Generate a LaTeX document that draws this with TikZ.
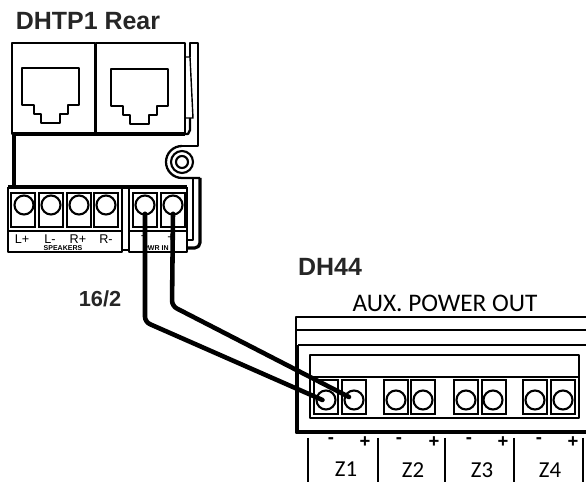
\documentclass[tikz,border=0pt]{standalone}
\usepackage{fontspec}
\setmainfont{Liberation Sans}
\newfontfamily\panelfont{Carlito}
\usetikzlibrary{positioning}
\tikzset{outline/.style={line width=1.3pt, line join=round}}
\tikzset{heavyline/.style={line width=1.8pt, line join=round}}
\tikzset{thinline/.style={line width=0.8pt}}
\tikzset{wire/.style={line width=2.6pt, rounded corners=3pt, line cap=round}}
\tikzset{screw/.style={circle, draw, line width=1.2pt, minimum size=0.38cm, inner sep=0pt, outer sep=0pt}}
\tikzset{cell/.style={rectangle, draw, line width=1.2pt, minimum width=0.48cm, minimum height=0.68cm, inner sep=0pt, outer sep=0pt}}
\tikzset{title/.style={font=\bfseries\fontsize{14.2}{15}\selectfont, text=black!85, inner sep=0pt}}
\tikzset{termlabel/.style={font=\fontsize{7.2}{8}\selectfont, inner sep=0pt}}
\tikzset{tinylabel/.style={font=\bfseries\fontsize{4}{5}\selectfont, inner sep=0pt}}
\tikzset{zonelabel/.style={font=\panelfont\fontsize{13}{14}\selectfont, inner sep=0pt}}
\tikzset{signlabel/.style={font=\bfseries\fontsize{10.5}{11}\selectfont, inner sep=0pt}}

\begin{document}
\begin{tikzpicture}[x=0.02cm,y=-0.02cm]
 \useasboundingbox (0,0) rectangle (586,482);

 %Drawing Wall Plate Jacks
 \node[title] (rearlabel) at (88,21) {DHTP1 Rear};
 \draw[outline] (12,43) rectangle (95,134);
 \draw[outline] (96,43) rectangle (185,134);
 \draw[heavyline] (12,134) -- (185,134);
 \draw[outline] (22,68) -- (79,68) -- (79,105) -- (68,105) -- (68,114) -- (60,114) -- (60,123) -- (41,123) -- (41,114) -- (34,114) -- (34,105) -- (22,105) -- cycle;
 \draw[outline] (111,69) -- (168,69) -- (168,106) -- (157,106) -- (157,115) -- (149,115) -- (149,124) -- (130,124) -- (130,115) -- (123,115) -- (123,106) -- (111,106) -- cycle;

 %Side Clip
 \draw[outline] (190,57) -- (190,43) -- (198,43) -- (198,146) -- (180,146);
 \draw[thinline] (185,57) -- (190,57) -- (193,118) -- (185,118);
 \draw[outline] (185,134) -- (188,134) -- (190,130) -- (190,118);
 \draw[heavyline] (14,134) -- (14,187);

 %Washer
 \draw[outline] (182,146) arc[start angle=270, end angle=90, radius=16] -- (200,178);
 \node[circle, draw, line width=1.2pt, minimum size=0.44cm, inner sep=0pt] (washermid) at (182,162) {};
 \node[circle, draw, line width=1.2pt, minimum size=0.24cm, inner sep=0pt] (washerinner) at (182,162) {};

 %Speaker Block
 \draw[heavyline] (8,187) -- (187,187);
 \draw[outline] (8,187) -- (8,252) -- (122,252) -- (122,187);
 \draw[outline] (129,187) -- (129,252) -- (187,252) -- (187,187);
 \draw[outline] (122,250) -- (129,250);
 \draw[heavyline, rounded corners=3pt] (200,178) -- (200,248) -- (187,248);
 \draw[outline] (187,240) -- (193,240) -- (193,178);
 \draw[thinline] (8,231) -- (122,231);
 \draw[thinline] (129,231) -- (187,231);

 \node[cell] (celll1) at (23,210) {};
 \node[cell] (celll2) at (51,210) {};
 \node[cell] (cellr1) at (79,210) {};
 \node[cell] (cellr2) at (106,210) {};
 \node[cell] (cellpm) at (145,210) {};
 \node[cell] (cellpp) at (173,210) {};
 \node[screw] (screwl1) at (24,205) {};
 \node[screw] (screwl2) at (51,205) {};
 \node[screw] (screwr1) at (79,205) {};
 \node[screw] (screwr2) at (106,205) {};
 \node[screw] (screwpm) at (145,205) {};
 \node[screw] (screwpp) at (173,205) {};

 \node[termlabel] (labell1) at (22,239) {L+};
 \node[termlabel] (labell2) at (50,239) {L-};
 \node[termlabel] (labelr1) at (78,239) {R+};
 \node[termlabel] (labelr2) at (106,239) {R-};
 \node[termlabel] (labelpm) at (143,238) {-};
 \node[termlabel] (labelpp) at (171,238) {+};
 \node[tinylabel] (speakerslabel) at (63,248) {SPEAKERS};
 \node[tinylabel] (pwrlabel) at (156,248) {PWR IN};

 %Drawing Amplifier Panel
 \node[title] (amplabel) at (330,267) {DH44};
 \node[inner sep=0pt, font=\panelfont\fontsize{14.4}{15}\selectfont] (auxlabel) at (445,303) {AUX. POWER OUT};
 \draw[outline] (586,317) -- (296,317) -- (296,433) -- (586,433);
 \draw[outline] (296,330) -- (586,330);
 \draw[outline] (298,345) -- (586,345);
 \draw[thinline] (298,345) -- (298,431) -- (586,431);
 \draw[outline] (310,355) rectangle (579,418);
 \draw[outline] (310,377) -- (579,377);

 \node[cell] (cellz1a) at (326,397) {};
 \node[cell] (cellz1b) at (354,397) {};
 \node[cell] (cellz2a) at (396,397) {};
 \node[cell] (cellz2b) at (423,397) {};
 \node[cell] (cellz3a) at (466,397) {};
 \node[cell] (cellz3b) at (494,397) {};
 \node[cell] (cellz4a) at (535,397) {};
 \node[cell] (cellz4b) at (563,397) {};
 \node[screw] (screwz1a) at (326,400) {};
 \node[screw] (screwz1b) at (354,400) {};
 \node[screw] (screwz2a) at (396,400) {};
 \node[screw] (screwz2b) at (423,400) {};
 \node[screw] (screwz3a) at (466,400) {};
 \node[screw] (screwz3b) at (493,400) {};
 \node[screw] (screwz4a) at (535,400) {};
 \node[screw] (screwz4b) at (563,400) {};

 %Zone Dividers
 \draw[outline] (308,438) -- (308,482);
 \draw[outline] (378,438) -- (378,482);
 \draw[outline] (445,438) -- (445,482);
 \draw[outline] (514,438) -- (514,482);
 \draw[outline] (583,438) -- (583,482);

 \node[signlabel] (minusz1) at (331,441) {-};
 \node[signlabel] (plusz1) at (365,442) {+};
 \node[signlabel] (minusz2) at (399,441) {-};
 \node[signlabel] (plusz2) at (434,442) {+};
 \node[signlabel] (minusz3) at (469,441) {-};
 \node[signlabel] (plusz3) at (503,442) {+};
 \node[signlabel] (minusz4) at (539,441) {-};
 \node[signlabel] (plusz4) at (573,442) {+};
 \node[zonelabel] (labelz1) at (346,469) {Z1};
 \node[zonelabel] (labelz2) at (413,470) {Z2};
 \node[zonelabel] (labelz3) at (482,470) {Z3};
 \node[zonelabel] (labelz4) at (550,470) {Z4};

 %Drawing Cable
 \coordinate (bendm) at (145,322);
 \coordinate (bendp) at (172,306);
 \draw[wire] ([yshift=-5]screwpm.center) -- (bendm) -- ([xshift=-2]screwz1a.center);
 \draw[wire] ([yshift=-5]screwpp.center) -- (bendp) -- ([shift={(-5,-3)}]screwz1b.center);
 \node[inner sep=0pt, font=\bfseries\fontsize{12.4}{13}\selectfont, text=black!85] (cablelabel) at (100,299) {16/2};
\end{tikzpicture}
\end{document}
